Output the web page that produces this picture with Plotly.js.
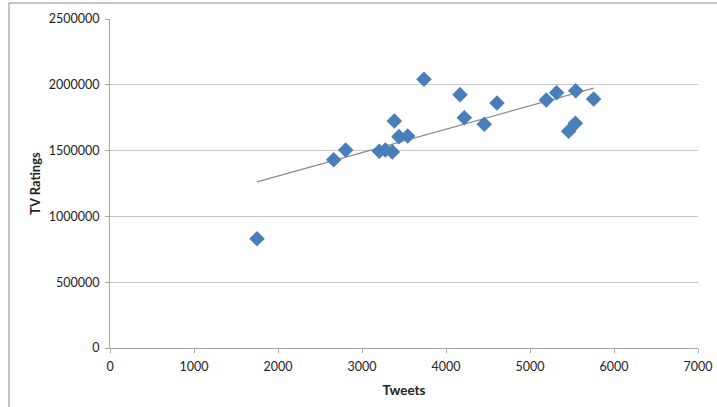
<!DOCTYPE html>
<html>
<head>
<meta charset="utf-8">
<script src="https://cdn.plot.ly/plotly-3.0.1.min.js"></script>
<style>
html,body{margin:0;padding:0;background:#fff;}
#chart{width:717px;height:407px;}
</style>
</head>
<body>
<div id="chart"></div>
<script>
const tweets = [1750, 2663, 2806, 3206, 3278, 3361, 3385, 3440, 3544, 3738, 4167, 4218, 4456, 4607, 5194, 5317, 5460, 5540, 5544, 5758];
const ratings = [830000, 1430000, 1505000, 1495000, 1505000, 1490000, 1725000, 1606000, 1611000, 2042000, 1925000, 1750000, 1700000, 1862000, 1884000, 1940000, 1647000, 1707000, 1955000, 1892000];
const xTicks = [0, 1000, 2000, 3000, 4000, 5000, 6000, 7000];
const yTicks = [0, 500000, 1000000, 1500000, 2000000, 2500000];
const xTitle = "Tweets";
const yTitle = "TV Ratings";

// least-squares linear trendline computed from the data
const n = tweets.length;
const mx = tweets.reduce((a,b)=>a+b,0)/n;
const my = ratings.reduce((a,b)=>a+b,0)/n;
let sxy=0, sxx=0;
for (let i=0;i<n;i++){ sxy += (tweets[i]-mx)*(ratings[i]-my); sxx += (tweets[i]-mx)**2; }
const slope = sxy/sxx, icpt = my - slope*mx;
const xmin = Math.min(...tweets), xmax = Math.max(...tweets);
const trendX = [xmin, xmax];
const trendY = trendX.map(x => icpt + slope*x);

const font = "Lato, 'Open Sans', sans-serif";
const data = [
  {x: trendX, y: trendY, mode: 'lines', type: 'scatter',
   line: {color: '#8c8c8c', width: 1.3}, hoverinfo: 'skip'},
  {x: tweets, y: ratings, mode: 'markers', type: 'scatter',
   marker: {symbol: 'diamond', size: 12, color: '#4a7ebb', line: {width: 0}}}
];
const layout = {
  width: 717, height: 407,
  margin: {l: 110, r: 19, t: 19, b: 59},
  showlegend: false,
  paper_bgcolor: '#fff', plot_bgcolor: '#fff',
  font: {family: font, size: 12.5, color: '#222'},
  xaxis: {range: [0, 7000], tickvals: xTicks, ticktext: xTicks.map(String),
    showgrid: false, zeroline: false, showline: true, linecolor: '#a6a6a6', linewidth: 1,
    ticks: 'outside', ticklen: 4, tickcolor: '#a6a6a6', ticklabelstandoff: 3,
    title: {text: xTitle, font: {family: font, size: 13.5, color: '#222', weight: 'bold'}, standoff: 12}},
  yaxis: {range: [0, 2500000], tickvals: yTicks, ticktext: yTicks.map(String),
    showgrid: true, gridcolor: '#c8c8c8', gridwidth: 1, zeroline: false,
    showline: true, linecolor: '#a6a6a6', linewidth: 1,
    ticks: 'outside', ticklen: 4, tickcolor: '#a6a6a6', ticklabelstandoff: 3,
    title: {text: yTitle, font: {family: font, size: 13, color: '#222', weight: 'bold'}, standoff: 5}},
  shapes: [
    {type: 'line', xref: 'paper', yref: 'paper', x0: -0.1718, x1: -0.1718, y0: 1.0486, y1: -0.5,
     line: {color: '#8a8a8a', width: 1}},
    {type: 'line', xref: 'paper', yref: 'paper', x0: -0.1718, x1: 1.5, y0: 1.0486, y1: 1.0486,
     line: {color: '#8a8a8a', width: 1}}
  ]
};
Plotly.newPlot('chart', data, layout, {displayModeBar: false, staticPlot: true});
</script>
</body>
</html>
